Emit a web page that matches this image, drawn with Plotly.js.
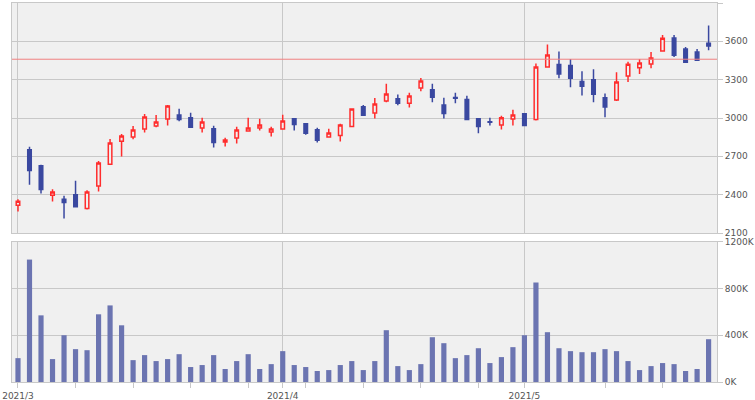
<!DOCTYPE html>
<html><head><meta charset="utf-8">
<script src="https://cdn.plot.ly/plotly-3.0.1.min.js"></script>
<style>html,body{margin:0;padding:0;background:#fff}#chart{width:755px;height:400px}</style>
</head><body><div id="chart"></div>
<script>
const dates = [
  "2021-03-01","2021-03-02","2021-03-03","2021-03-04","2021-03-05","2021-03-08","2021-03-09","2021-03-10","2021-03-11","2021-03-12",
  "2021-03-15","2021-03-16","2021-03-17","2021-03-18","2021-03-19","2021-03-22","2021-03-23","2021-03-24","2021-03-25","2021-03-26",
  "2021-03-29","2021-03-30","2021-03-31",
  "2021-04-01","2021-04-02","2021-04-05","2021-04-06","2021-04-07","2021-04-08","2021-04-09","2021-04-12","2021-04-13","2021-04-14",
  "2021-04-15","2021-04-16","2021-04-19","2021-04-20","2021-04-21","2021-04-22","2021-04-23","2021-04-26","2021-04-27","2021-04-28","2021-04-30",
  "2021-05-06","2021-05-07","2021-05-10","2021-05-11","2021-05-12","2021-05-13","2021-05-14","2021-05-17","2021-05-18","2021-05-19",
  "2021-05-20","2021-05-21","2021-05-24","2021-05-25","2021-05-26","2021-05-27","2021-05-28"
];
const openP  = [2318,2752,2626,2396,2365,2399,2292,2467,2639,2819,2851,2914,2937,2992,3023,3002,2921,2916,2812,2843,2898,2921,2890,2914,2995,2955,2908,2851,2864,2934,3089,3039,3133,3151,3115,3235,3222,3102,3160,3144,2995,2970,2945,2992,3034,2989,3400,3418,3410,3285,3300,3159,3141,3329,3394,3423,3525,3627,3541,3517,3585];
const highP  = [2365,2775,2634,2443,2391,2509,2435,2663,2835,2874,2937,3031,3023,3102,3073,3042,3002,2940,2846,2932,3002,2995,2932,3026,2995,2961,2924,2916,2955,3070,3102,3157,3269,3183,3198,3313,3269,3159,3198,3175,2995,3002,3018,3065,3034,3426,3575,3520,3462,3366,3381,3191,3358,3441,3462,3517,3650,3650,3556,3541,3724];
const lowP   = [2268,2477,2409,2347,2213,2305,2284,2425,2639,2699,2833,2887,2927,2942,2974,2927,2887,2770,2778,2801,2898,2903,2856,2914,2903,2869,2809,2851,2817,2927,3021,2997,3123,3099,3083,3209,3123,2997,3115,2989,2880,2942,2911,2942,2942,2981,3400,3311,3240,3177,3123,3005,3133,3282,3345,3389,3525,3478,3436,3452,3530];
const closeP = [2349,2590,2441,2420,2339,2305,2420,2647,2804,2859,2906,3008,2968,3094,2989,2927,2968,2809,2827,2906,2921,2945,2914,2976,2950,2880,2825,2882,2945,3070,3021,3110,3188,3115,3172,3290,3162,3036,3155,2989,2934,2966,3002,3023,2942,3400,3494,3345,3311,3248,3185,3086,3282,3421,3431,3470,3624,3491,3436,3452,3564];
const volume = [204000,1047000,570000,196000,400000,281000,272000,579000,655000,485000,187000,230000,179000,196000,238000,128000,145000,230000,111000,179000,238000,111000,153000,264000,145000,128000,94000,102000,145000,179000,102000,179000,443000,136000,102000,153000,383000,332000,204000,230000,289000,162000,213000,298000,400000,851000,426000,289000,264000,255000,255000,281000,264000,179000,102000,136000,162000,153000,94000,111000,366000];
const monthStarts = ["2021-03-01","2021-04-01","2021-05-06"];
const monthLabels = ["2021/3","2021/4","2021/5"];
const weekTicks = ["2021-03-01","2021-03-08","2021-03-15","2021-03-22","2021-03-29","2021-04-05","2021-04-12","2021-04-19","2021-04-26","2021-05-17","2021-05-24"];
const priceTicks = [2100,2400,2700,3000,3300,3600,3900];
const volTicks = [0,400000,800000,1200000];
const volLabels = ["0K","400K","800K","1200K"];
const refLine = 3460;

const xi = dates.map((d,i)=>i);
const pos = d => dates.indexOf(d);

const GRID = '#c8c8c8';
const RED = '#ff2d2d';
const BLUE = '#3a48a0';
const VOL = '#6b74b1';
const font = {family:'DejaVu Sans, sans-serif', size:9, color:'#555'};
const xr = [-0.52, 60.73];

const traces = [
  {type:'candlestick', x:xi, open:openP, high:highP, low:lowP, close:closeP, xaxis:'x', yaxis:'y',
   increasing:{line:{color:RED,width:1.5}, fillcolor:'#f0f0f0'},
   decreasing:{line:{color:BLUE,width:1.5}, fillcolor:BLUE},
   whiskerwidth:0, hoverinfo:'skip'},
  {type:'bar', x:xi, y:volume, xaxis:'x2', yaxis:'y2', marker:{color:VOL, line:{width:0}}, width:0.45, hoverinfo:'skip'}
];

const layout = {
  width:755, height:400,
  margin:{l:12, r:38, t:3, b:18},
  paper_bgcolor:'#fff', plot_bgcolor:'#f0f0f0',
  showlegend:false, font:font, boxgap:0.56,
  xaxis:{domain:[0,1], anchor:'y', range:xr, tickmode:'array', tickvals:monthStarts.map(pos),
    showticklabels:false, ticks:'', showgrid:true, gridcolor:GRID, gridwidth:1,
    showline:true, mirror:true, linecolor:GRID, linewidth:1, zeroline:false,
    rangeslider:{visible:false}, fixedrange:true},
  yaxis:{domain:[0.3931,1], anchor:'x', range:[2100,3900], tickmode:'array', tickvals:priceTicks,
    side:'right', ticks:'outside', ticklen:5, tickcolor:GRID, showgrid:true, gridcolor:GRID,
    showline:true, mirror:true, linecolor:GRID, zeroline:false, tickfont:font},
  xaxis2:{domain:[0,1], anchor:'y2', range:xr, tickmode:'array', tickvals:monthStarts.map(pos), ticktext:monthLabels,
    ticks:'outside', ticklen:5, tickcolor:GRID, showgrid:true, gridcolor:GRID,
    minor:{tickmode:'array', tickvals:weekTicks.map(pos), ticks:'outside', ticklen:5, tickcolor:GRID, showgrid:false},
    showline:true, mirror:true, linecolor:GRID, zeroline:false, tickfont:font},
  yaxis2:{domain:[0,0.3702], anchor:'x2', range:[0,1200000], tickmode:'array', tickvals:volTicks, ticktext:volLabels,
    side:'right', ticks:'outside', ticklen:5, tickcolor:GRID, showgrid:true, gridcolor:GRID,
    showline:true, mirror:true, linecolor:GRID, zeroline:false, tickfont:font},
  shapes:[{type:'line', xref:'x domain', yref:'y', x0:0, x1:1, y0:refLine, y1:refLine,
    line:{color:'#f08080', width:1}, layer:'above'}]
};

Plotly.newPlot('chart', traces, layout, {displayModeBar:false, staticPlot:true});
</script>
</body></html>
